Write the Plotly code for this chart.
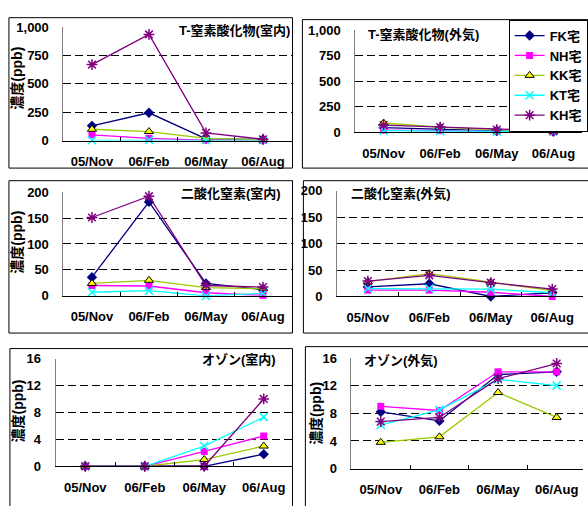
import plotly.graph_objects as go

W, H = 588, 506

categories = ["05/Nov", "06/Feb", "06/May", "06/Aug"]
homes = ["FK宅", "NH宅", "KK宅", "KT宅", "KH宅"]

# T-窒素酸化物 (室内)
tnox_in_fk = [130, 245, 15, 10]
tnox_in_nh = [51, 20, 5, 5]
tnox_in_kk = [100, 80, 20, 10]
tnox_in_kt = [3, 5, 3, 3]
tnox_in_kh = [670, 935, 68, 12]
# T-窒素酸化物 (外気)
tnox_out_fk = [45, 30, 12, 5]
tnox_out_nh = [20, 15, 10, 5]
tnox_out_kk = [90, 50, 22, 10]
tnox_out_kt = [15, 10, 5, 5]
tnox_out_kh = [70, 50, 25, 12]
# 二酸化窒素 (室内)
no2_in_fk = [36, 181, 24, 12]
no2_in_nh = [20, 19, 6, 1]
no2_in_kk = [24, 30, 16, 14]
no2_in_kt = [7, 10, 0, 5]
no2_in_kh = [151, 192, 20, 17]
# 二酸化窒素 (外気)
no2_out_fk = [18, 24, 0, 7]
no2_out_nh = [12, 12, 8, 0]
no2_out_kk = [28, 43, 27, 11]
no2_out_kt = [15, 15, 14, 7]
no2_out_kh = [29, 40, 26, 14]
# オゾン (室内)
o3_in_fk = [0, 0, 0, 1.8]
o3_in_nh = [0, 0, 2.2, 4.5]
o3_in_kk = [0, 0, 1.0, 3.0]
o3_in_kt = [0, 0, 3.0, 7.3]
o3_in_kh = [0, 0, 0, 10]
# オゾン (外気)
o3_out_fk = [8.2, 6.9, 13.6, 14.0]
o3_out_nh = [9.0, 8.4, 14.0, 14.0]
o3_out_kk = [3.8, 4.6, 11.0, 7.4]
o3_out_kt = [6.3, 8.5, 12.9, 12.0]
o3_out_kh = [6.8, 7.4, 13.0, 15.2]

panel_titles = ["T-窒素酸化物(室内)", "T-窒素酸化物(外気)", "二酸化窒素(室内)",
                "二酸化窒素(外気)", "オゾン(室内)", "オゾン(外気)"]
ytitle = "濃度(ppb)"
yticks_nox = [0, 250, 500, 750, 1000]
yticks_no2 = [0, 50, 100, 150, 200]
yticks_o3 = [0, 4, 8, 12, 16]

panels_data = [
    [tnox_in_fk, tnox_in_nh, tnox_in_kk, tnox_in_kt, tnox_in_kh],
    [tnox_out_fk, tnox_out_nh, tnox_out_kk, tnox_out_kt, tnox_out_kh],
    [no2_in_fk, no2_in_nh, no2_in_kk, no2_in_kt, no2_in_kh],
    [no2_out_fk, no2_out_nh, no2_out_kk, no2_out_kt, no2_out_kh],
    [o3_in_fk, o3_in_nh, o3_in_kk, o3_in_kt, o3_in_kh],
    [o3_out_fk, o3_out_nh, o3_out_kk, o3_out_kt, o3_out_kh],
]
panels_ticks = [yticks_nox, yticks_nox, yticks_no2, yticks_no2, yticks_o3, yticks_o3]

FONT = "Liberation Sans, Noto Sans CJK JP"


def px(x):
    return x / W


def py(y):
    return 1 - y / H


styles = [
    dict(line=dict(color="#000080", width=1.3),
         marker=dict(symbol="diamond", size=8, color="#000080")),
    dict(line=dict(color="#FF00FF", width=1.3),
         marker=dict(symbol="square", size=7, color="#FF00FF")),
    dict(line=dict(color="#99CC00", width=1.3),
         marker=dict(symbol="triangle-up", size=8, color="#FFFF00",
                     line=dict(color="#000000", width=1))),
    dict(line=dict(color="#00FFFF", width=1.3),
         marker=dict(symbol="x-thin-open", size=8, color="#00FFFF",
                     line=dict(color="#00FFFF", width=1.5))),
    dict(line=dict(color="#800080", width=1.3),
         marker=dict(symbol="asterisk-open", size=9, color="#800080",
                     line=dict(color="#800080", width=1.5))),
]

# pixel geometry (picture coords) of each plot area
geo = [
    (64, 294, 20.7, 137.7),
    (358.3, 586.7, 24, 129),
    (64, 294, 190.7, 297.7),
    (340, 588, 189.3, 298.3),
    (56, 296, 362.3, 473.3),
    (354.5, 591, 361.7, 475.7),
]
frames = [(9, 11, 295, 166), (305, 13, 600, 166), (9, 179, 295, 336),
          (306, 179, 600, 336), (10, 352, 295, 520), (308, 350, 600, 520)]

fig = go.Figure()

for p in range(6):
    ax = "" if p == 0 else str(p + 1)
    for s in range(5):
        fig.add_trace(go.Scatter(
            x=categories, y=panels_data[p][s], name=homes[s],
            mode="lines+markers", xaxis="x" + ax, yaxis="y" + ax,
            cliponaxis=False, hoverinfo="skip",
            showlegend=(p == 0), legendgroup=homes[s], **styles[s]))

layout = dict(width=W, height=H, margin=dict(l=0, r=0, t=0, b=0),
              paper_bgcolor="white", plot_bgcolor="white",
              font=dict(family=FONT, size=13, color="black"),
              showlegend=True)

for p in range(6):
    x0, x1, yt, yb = geo[p]
    ax = "" if p == 0 else str(p + 1)
    ticks = panels_ticks[p]
    band = (x1 - x0) / 4
    xend = min(x1, W)
    r1 = -0.5 + (xend - x0) / band
    layout["xaxis" + ax] = dict(
        domain=[px(x0), px(xend)], anchor="y" + ax, type="category",
        range=[-0.5, r1], tickson="boundaries", ticks="inside", ticklen=4,
        tickcolor="black", showline=True, linecolor="black", linewidth=1,
        showgrid=False, zeroline=False, ticklabelstandoff=9, tickangle=0,
        tickfont=dict(family=FONT, size=13, weight="bold"))
    layout["yaxis" + ax] = dict(
        domain=[py(yb), py(yt)], anchor="x" + ax,
        range=[ticks[0], ticks[-1]], tickvals=ticks, tickformat=",",
        showline=True, linecolor="#808080", linewidth=1,
        showgrid=True, gridcolor="black", griddash="8px,4px", gridwidth=1,
        zeroline=False, ticks="", ticklabelstandoff=11,
        tickfont=dict(family=FONT, size=13, weight="bold"))

layout["legend"] = dict(x=px(513), y=py(13), xanchor="left", yanchor="top",
                        bgcolor="white", bordercolor="black", borderwidth=1,
                        font=dict(family=FONT, size=13, weight="bold"),
                        itemwidth=30, tracegroupgap=0)

shapes = []
for (fx0, fy0, fx1, fy1) in frames:
    shapes.append(dict(type="rect", xref="paper", yref="paper",
                       x0=px(fx0), x1=px(fx1), y0=py(fy1), y1=py(fy0),
                       line=dict(color="black", width=1), layer="below"))
layout["shapes"] = shapes

ann = []
tpos = [(293, 24, "right"), (370, 28, "left"), (284, 192, "right"),
        (353, 192, "left"), (279, 363, "right"), (366, 364, "left")]
for p in range(6):
    x, y, anc = tpos[p]
    ann.append(dict(text=panel_titles[p], xref="paper", yref="paper",
                    x=px(x), y=py(y), xanchor=anc, yanchor="middle",
                    showarrow=False, bgcolor="white", borderpad=0,
                    font=dict(family=FONT, size=13, weight="bold")))
for (x, y) in [(17, 73), (17, 242), (18, 416), (318, 419)]:
    ann.append(dict(text=ytitle, xref="paper", yref="paper", x=px(x), y=py(y),
                    xanchor="center", yanchor="middle", textangle=-90,
                    showarrow=False,
                    font=dict(family=FONT, size=14, weight="bold")))
layout["annotations"] = ann

fig.update_layout(**layout)
fig.write_html(
    "out.html",
    config={"displayModeBar": False},
    post_script="document.body.style.margin='0';document.body.style.overflow='hidden';")
